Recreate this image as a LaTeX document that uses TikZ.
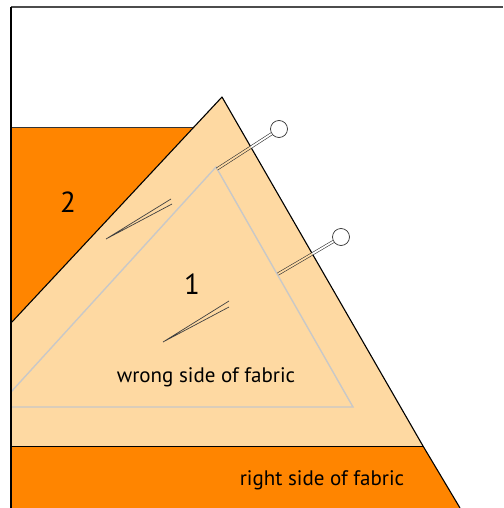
\documentclass[tikz,border=0pt]{standalone}
\usepackage{fontspec}
\setmainfont{PT Sans}
\usepackage{tikz}

\definecolor{fabricorange}{RGB}{255,133,0}
\definecolor{fabrictan}{RGB}{254,217,162}
\definecolor{seamgray}{RGB}{200,200,200}

\begin{document}
\begin{tikzpicture}[x=1pt,y=-1pt,
    edge/.style={draw=black, line width=1.1pt, line join=round},
    seam/.style={draw=seamgray, line width=1.4pt},
    needle/.style={draw=black!75, line width=0.7pt},
    pinhead/.style={circle, draw=black!80, fill=white, line width=0.7pt, minimum size=17pt, inner sep=0pt},
    shaft/.style={draw=black!80, line width=0.6pt, double distance=1.8pt},
    label/.style={anchor=base, font=\fontsize{21}{21}\selectfont},
    number/.style={anchor=base, font=\fontsize{29}{29}\selectfont}]

    \useasboundingbox (0,0) rectangle (503,508);

    % ================= FABRIC PIECES =================
    \coordinate (apex) at (222,97);
    \coordinate (br) at (423,446);
    \coordinate (bl) at (11,446);
    \coordinate (lc) at (11,323);

    % piece 2
    \fill[fabricorange] (11,127) -- (194,127) -- (lc) -- cycle;
    \draw[line width=0.8pt, black!80] (11,127) -- (194,127);

    % piece 1 (wrong side up)
    \fill[fabrictan] (lc) -- (apex) -- (br) -- (bl) -- cycle;
    \draw[edge] (lc) -- (apex) -- (br);

    % bottom strip (right side up)
    \fill[fabricorange] (bl) -- (br) -- (460,508) -- (11,508) -- cycle;
    \draw[line width=0.8pt] (bl) -- (br);
    \draw[edge] (br) -- (460,508);

    % Seam allowance
    \coordinate (sc) at (216,167);
    \draw[seam] (11,392) -- (sc) -- (353,407) -- (11,407);

    % ================= NEEDLE MARKS =================
    \draw[needle] (171,199) -- (106,239) -- (172,204);
    \draw[needle] (229,301) -- (163,342) -- (229,307);

    % ================= PINS =================
    \node[pinhead] (head1) at (279,129) {};
    \node[pinhead] (head2) at (341,237) {};
    \coordinate (tip1) at (217,169);
    \coordinate (tip2) at (278,274);
    \coordinate (cross1) at (intersection of tip1--head1 and apex--br);
    \coordinate (cross2) at (intersection of tip2--head2 and apex--br);
    \draw[shaft, double=fabrictan] (tip1) -- (cross1);
    \draw[shaft, double=white] (cross1) -- (head1);
    \draw[shaft, double=fabrictan] (tip2) -- (cross2);
    \draw[shaft, double=white] (cross2) -- (head2);

    % Labels
    \node[number] (two) at (68,212) {2};
    \node[number] (one) at (192,294) {1};
    \node[label] (wrong) at (206,382) {wrong side of fabric};
    \node[label] (right) at (322,485) {right side of fabric};

    % ================= FRAME =================
    \draw[line width=1.2pt, black!70] (11,7) -- (503,7);
    \draw[line width=1.3pt] (11,7) -- (11,508);

\end{tikzpicture}
\end{document}
